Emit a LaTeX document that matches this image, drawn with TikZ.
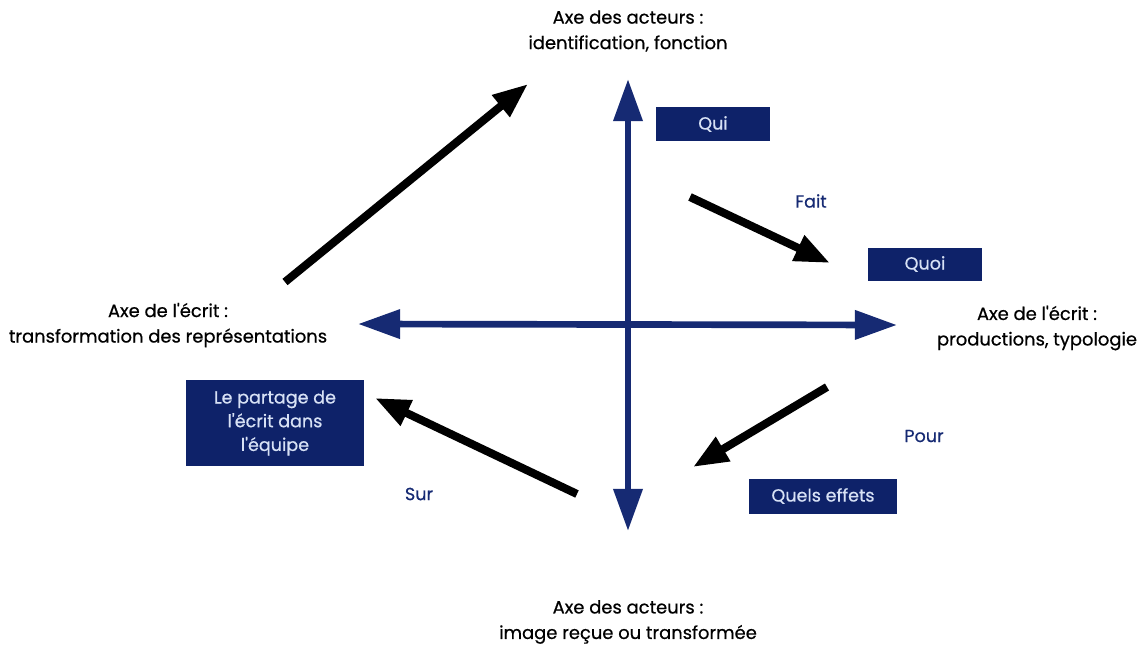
\documentclass[tikz,border=0pt]{standalone}
\usepackage{fontspec}
\setmainfont{Poppins}[BoldFont={Poppins}, BoldFeatures={FakeBold=0.6}]
\usetikzlibrary{arrows.meta}
\definecolor{axisblue}{RGB}{22, 42, 115}
\definecolor{boxblue}{RGB}{14, 34, 105}
\definecolor{boxtext}{RGB}{215, 225, 245}

\begin{document}
\begin{tikzpicture}[x=0.02cm, y=-0.02cm,
    axe/.style={draw=axisblue, line width=3.8pt,
      {Triangle[length=24pt,width=16pt]}-{Triangle[length=24pt,width=16pt]}},
    fleche/.style={draw=black, line width=4.6pt, -{Triangle[length=20pt,width=15pt]}},
    cadre/.style={fill=boxblue, text=boxtext, align=center, inner sep=0pt,
      font=\fontsize{10}{13.5}\selectfont\bfseries},
    legende/.style={align=center, font=\fontsize{10.2}{14.5}\selectfont\bfseries},
    mot/.style={text=axisblue, font=\fontsize{10}{12}\selectfont\bfseries}]
  \useasboundingbox (0,0) rectangle (1147,653);
  % les deux axes
  \coordinate (haut) at (628,79);
  \coordinate (bas) at (628,531);
  \coordinate (gauche) at (358,324);
  \coordinate (droite) at (897,325);
  \draw[axe] (haut) -- (bas);
  \draw[axe] (gauche) -- (droite);
  % textes des axes
  \node[legende] (acteursHaut) at (628,31) {Axe des acteurs :\\identification, fonction};
  \node[legende] (acteursBas) at (628,622) {Axe des acteurs :\\image reçue ou transformée};
  \node[legende] (ecritGauche) at (168,325) {Axe de l\textquotesingle écrit :\\transformation des représentations};
  \node[legende] (ecritDroite) at (1037,328) {Axe de l\textquotesingle écrit :\\productions, typologie};
  % cadres
  \node[cadre, minimum width=2.28cm, minimum height=0.68cm] (qui) at (713,124) {Qui};
  \node[cadre, minimum width=2.28cm, minimum height=0.66cm] (quoi) at (925,264) {Quoi};
  \node[cadre, minimum width=2.96cm, minimum height=0.70cm] (effets) at (823,496) {Quels effets};
  \node[cadre, minimum width=3.56cm, minimum height=1.74cm] (partage) at (275,423) {Le partage de\\l\textquotesingle écrit dans\\l\textquotesingle équipe};
  % mots de liaison
  \node[mot] (fait) at (811,201) {Fait};
  \node[mot] (pour) at (924,436) {Pour};
  \node[mot] (sur) at (419,494) {Sur};
  % flèches noires
  \coordinate (a1) at (285,282);
  \coordinate (b1) at (528,84);
  \coordinate (a2) at (690,197);
  \coordinate (b2) at (830,263);
  \coordinate (a3) at (827,387);
  \coordinate (b3) at (693,467);
  \coordinate (a4) at (577,494);
  \coordinate (b4) at (375,398);
  \foreach \d/\f in {a1/b1, a2/b2, a3/b3, a4/b4}
    \draw[fleche] (\d) -- (\f);
\end{tikzpicture}
\end{document}
